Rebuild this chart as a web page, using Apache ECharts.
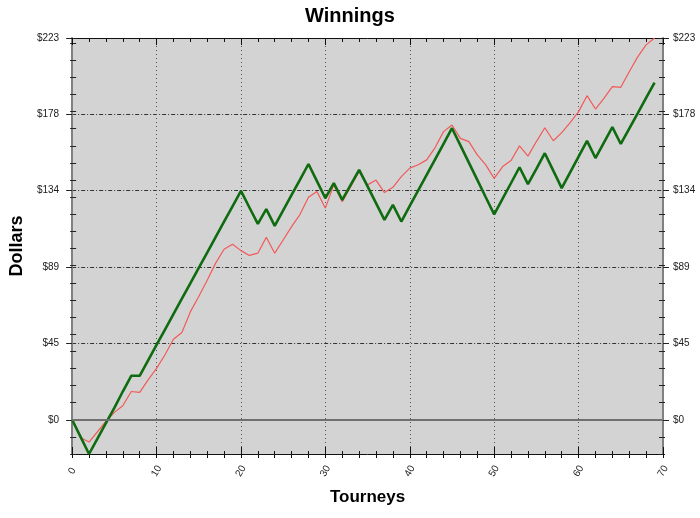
<!DOCTYPE html>
<html>
<head>
<meta charset="utf-8">
<script src="https://cdn.jsdelivr.net/npm/echarts@6/dist/echarts.min.js"></script>
<style>
html,body{margin:0;padding:0;background:#fff;}
#chart{width:700px;height:518px;}
</style>
</head>
<body>
<div id="chart"></div>
<script>
const tourneys = [0,1,2,3,4,5,6,7,8,9,10,11,12,13,14,15,16,17,18,19,20,21,22,23,24,25,26,27,28,29,30,31,32,33,34,35,36,37,38,39,40,41,42,43,44,45,46,47,48,49,50,51,52,53,54,55,56,57,58,59,60,61,62,63,64,65,66,67,68,69];
const actual = [0,-10.5,-13,-7,-1,4.3,8.2,16.5,16,23.3,30,38,47,51,63,72,81.5,91.5,99.6,102.5,98.8,96,97.3,106.6,97.3,105,112.8,120,130,133.3,123.6,137.2,127.4,136.2,145,137.2,140,132.7,135.8,142,147,149,151.8,159,168.3,172.2,164.4,162.5,154.7,148.9,141,147.9,151.4,160,154,162.5,170.6,163,167.7,173.6,180,189.3,181.5,187.7,194.6,194.2,203.3,212,219,223];
const trend = [0,-10,-20,-11,-2,7,16.5,25.7,25.7,34.7,43.7,52.7,61.7,70.7,79.7,88.7,97.7,106.7,115.7,124.7,133.7,124,114.4,123,113.3,122.3,131.3,140.3,149.4,139.4,129.4,138.2,128.4,137.2,146,136.3,126.5,116.8,125.5,115.8,124.9,134,143,152.1,161.2,170.3,160.3,150.2,140.1,130,120,129.2,138.3,147.5,137.6,146.6,155.7,145.5,135.3,144.5,153.7,162.9,152.9,161.9,170.9,161.1,170.1,179,188,196.9];
const yTickLabels = [0,44.6,89.2,133.8,178.4,223];
const yMin = -20, yMax = 223;
const xMin = 0, xMax = 70;

const font = 'Liberation Sans, Arial, sans-serif';
const fmt = v => '$' + Math.round(v);

function yAxisSet(pos) {
  const base = {type:'value', position:pos, min:yMin, max:yMax, splitLine:{show:false}};
  return [
    Object.assign({}, base, {
      interval:10,
      axisLine:{show:true, lineStyle:{color:'#808080', width:2}},
      axisTick:{show:true, inside:true, length:4, lineStyle:{color:'#222'}},
      axisLabel:{show:false}
    }),
    Object.assign({}, base, {
      interval:10,
      axisLine:{show:false},
      axisTick:{show:true, inside:false, length:2, lineStyle:{color:'#222'}},
      axisLabel:{show:false}
    }),
    Object.assign({}, base, {
      axisLine:{show:false},
      axisTick:{show:true, inside:false, length:6, customValues:yTickLabels, lineStyle:{color:'#222'}},
      axisLabel:{show:true, customValues:yTickLabels, formatter:fmt, color:'#1a1a1a', fontSize:10, fontFamily:font, margin: pos==='left'?13:10},
      splitLine:{show: pos==='left', lineStyle:{color:'#333', type:[4,2,1,2], width:1}}
    })
  ];
}

const yAxes = yAxisSet('left').concat(yAxisSet('right'));
yAxes[2].name = 'Dollars';
yAxes[2].nameLocation = 'middle';
yAxes[2].nameGap = 42;
yAxes[2].nameRotate = 90;
yAxes[2].nameTextStyle = {fontSize:18, fontWeight:'bold', fontFamily:font, color:'#000'};

const xAxes = [
  {type:'value', position:'bottom', min:xMin, max:xMax, interval:10,
   axisLine:{show:true, onZero:false, lineStyle:{color:'#111', width:1}},
   axisTick:{show:true, inside:false, length:4, lineStyle:{color:'#111'}},
   minorTick:{show:true, splitNumber:5, length:4, lineStyle:{color:'#111'}},
   axisLabel:{show:true, rotate:60, align:'center', verticalAlign:'middle', margin:17, color:'#222', fontSize:10, fontFamily:font},
   splitLine:{show:true, lineStyle:{color:'#555', type:[1,3], width:1}},
   name:'Tourneys', nameLocation:'middle', nameGap:35,
   nameTextStyle:{fontSize:17, fontWeight:'bold', fontFamily:font, color:'#000'}},
  {type:'value', position:'bottom', min:xMin, max:xMax, interval:10,
   axisLine:{show:false, onZero:false},
   axisTick:{show:true, inside:true, length:7, lineStyle:{color:'#111'}},
   minorTick:{show:true, splitNumber:5, length:3, lineStyle:{color:'#111'}},
   axisLabel:{show:false}, splitLine:{show:false}},
  {type:'value', position:'top', min:xMin, max:xMax, interval:10,
   axisLine:{show:true, onZero:false, lineStyle:{color:'#111', width:1}},
   axisTick:{show:true, inside:true, length:7, lineStyle:{color:'#111'}},
   minorTick:{show:true, splitNumber:5, length:4, lineStyle:{color:'#111'}},
   axisLabel:{show:false}, splitLine:{show:false}}
];

const chart = echarts.init(document.getElementById('chart'), null, {renderer:'canvas'});
chart.setOption({
  animation:false,
  backgroundColor:'#fff',
  title:{text:'Winnings', left:'center', top:1, textStyle:{fontSize:20, fontWeight:'bold', fontFamily:font, color:'#000'}},
  grid:{left:69, right:37, top:38, bottom:64, show:true, backgroundColor:'#d3d3d3', borderWidth:0},
  xAxis:xAxes,
  yAxis:yAxes,
  series:[
    {type:'line', name:'actual', xAxisIndex:0, yAxisIndex:0, symbol:'none', z:3,
     data:tourneys.map((t,i)=>[t, actual[i]]),
     lineStyle:{color:'#f25a5a', width:1.2},
     markLine:{silent:true, symbol:'none', label:{show:false},
       lineStyle:{color:'#707070', type:'solid', width:2},
       data:[{yAxis:0}]}},
    {type:'line', name:'trend', xAxisIndex:0, yAxisIndex:0, symbol:'none', z:4,
     data:tourneys.map((t,i)=>[t, trend[i]]),
     lineStyle:{color:'#0f6b0f', width:2.6}}
  ]
});
</script>
</body>
</html>
